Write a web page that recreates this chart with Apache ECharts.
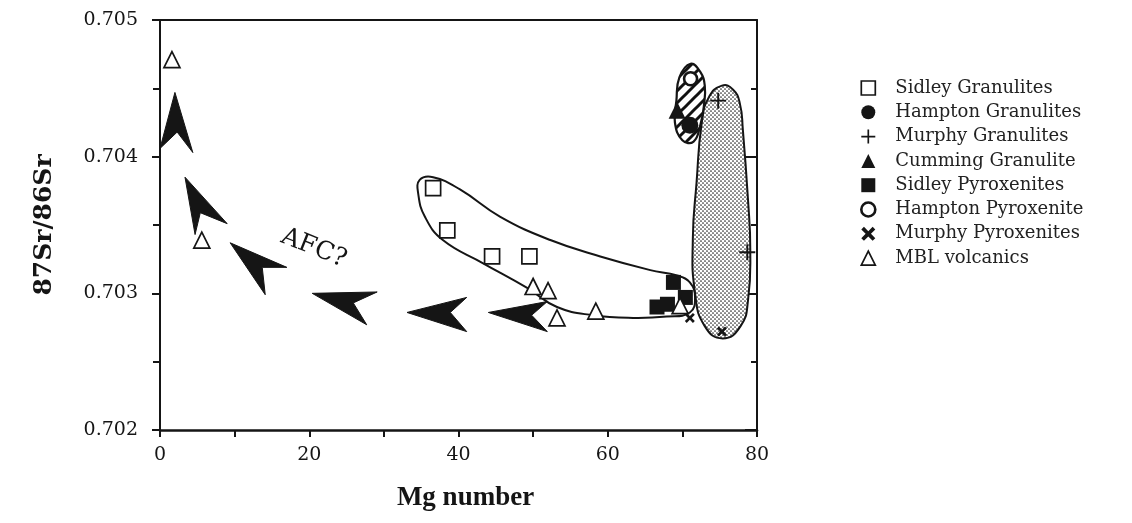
<!DOCTYPE html>
<html><head><meta charset="utf-8">
<style>html,body{margin:0;padding:0;background:#fff}#c{width:1132px;height:523px}</style>
<script src="https://cdn.jsdelivr.net/npm/echarts@6.0.0/dist/echarts.min.js"></script>
</head><body><div id="c"></div>
<script>
// ---- tick labels ----
const xTicks = [0, 20, 40, 60, 80];
const yTicks = [0.702, 0.703, 0.704, 0.705];

// ---- series values [Mg number, 87Sr/86Sr] ----
const sidleyGranulites = [[36.6,0.70377],[38.5,0.70346],[44.5,0.70327],[49.5,0.70327]];
const hamptonGranulites = [[71.0,0.70423]];
const murphyGranulites = [[74.8,0.70441],[78.7,0.70330]];
const cummingGranulite = [[69.3,0.70434]];
const sidleyPyroxenites = [[68.8,0.70308],[66.6,0.70290],[68.0,0.70292],[70.4,0.70297]];
const hamptonPyroxenite = [[71.1,0.70457]];
const murphyPyroxenites = [[75.3,0.70272],[71.0,0.70282]];
const mblVolcanics = [[1.6,0.70471],[5.6,0.70339],[50.0,0.70305],[52.0,0.70302],[53.2,0.70282],[58.4,0.70287],[69.7,0.70291]];

// ---- field outlines (data units) ----
const sidleyField = [[34.8,0.70383],[36.6,0.70385],[40.2,0.70376],[45.6,0.70356],[52.3,0.70339],[59.0,0.70327],[65.7,0.70317],[69.3,0.70313],[71.0,0.70308],[71.7,0.70297],[71.0,0.70286],[67.9,0.70283],[63.4,0.70282],[58.0,0.70284],[53.2,0.70290],[49.2,0.70304],[43.3,0.70322],[37.9,0.70339],[35.5,0.70356],[34.6,0.70373]];
const murphyField = [[75.3,0.70452],[76.8,0.70449],[77.7,0.70439],[78.1,0.70420],[78.8,0.70368],[79.1,0.70332],[78.8,0.70295],[77.8,0.70276],[75.4,0.70267],[73.0,0.70276],[71.7,0.70300],[71.4,0.70340],[71.9,0.70381],[72.6,0.70425],[73.5,0.70443]];
const hamptonField = [[71.1,0.70468],[72.4,0.70462],[73.0,0.70452],[72.9,0.70438],[72.4,0.70423],[71.5,0.70411],[70.0,0.70412],[69.0,0.70425],[69.2,0.70441],[69.6,0.70458]];

// ---- AFC trend arrowheads: tip, wing, notch, wing ----
const afcArrows = [
  [[2.0,0.70447],[4.4,0.70403],[2.3,0.70418],[0.0,0.70406]],
  [[3.35,0.70385],[9.0,0.70351],[5.4,0.70359],[4.7,0.70343]],
  [[9.4,0.70337],[17.0,0.70319],[13.7,0.70319],[14.1,0.70299]],
  [[20.4,0.70300],[29.1,0.70301],[25.9,0.70293],[27.7,0.70277]],
  [[33.1,0.70286],[41.1,0.70297],[38.9,0.70286],[41.1,0.70272]],
  [[44.0,0.70286],[51.9,0.70294],[49.8,0.70284],[51.9,0.70272]]
];
const afcLabel = {text: 'AFC?', at: [20.6, 0.70333]};

const INK = '#151515';
const SERIF = "'DejaVu Serif', 'Liberation Serif', serif";
const TITLE = "'Liberation Serif', 'DejaVu Serif', serif";

function stipplePattern() {
  const c = document.createElement('canvas'); c.width = 4; c.height = 4;
  const g = c.getContext('2d');
  g.fillStyle = '#fff'; g.fillRect(0,0,4,4);
  g.fillStyle = '#2a2a2a';
  g.beginPath(); g.arc(1,1,0.85,0,Math.PI*2); g.fill();
  g.beginPath(); g.arc(3,3,0.85,0,Math.PI*2); g.fill();
  return c;
}
function hatchPattern() {
  const c = document.createElement('canvas'); c.width = 12; c.height = 12;
  const g = c.getContext('2d');
  g.fillStyle = '#fff'; g.fillRect(0,0,12,12);
  g.strokeStyle = '#111'; g.lineWidth = 3;
  [[-6,6,6,-6],[0,12,12,0],[6,18,18,6]].forEach(function(l){
    g.beginPath(); g.moveTo(l[0],l[1]); g.lineTo(l[2],l[3]); g.stroke();
  });
  return c;
}

function fieldSeries(pts, style, z, smooth) {
  return {
    type: 'custom', z: z, silent: true, clip: false,
    data: [pts[0]],
    renderItem: function (params, api) {
      return {
        type: 'polygon',
        shape: { points: pts.map(function (p) { return api.coord(p); }), smooth: smooth },
        style: style
      };
    }
  };
}

const arrowSeries = {
  type: 'custom', z: 2, silent: true, clip: false,
  data: afcArrows.map(function (a) { return a[0]; }),
  renderItem: function (params, api) {
    const a = afcArrows[params.dataIndex];
    return { type: 'polygon', shape: { points: a.map(function (p) { return api.coord(p); }) },
             style: { fill: INK, stroke: INK, lineWidth: 1 } };
  }
};
const labelSeries = {
  type: 'custom', z: 2, silent: true, clip: false,
  data: [afcLabel.at],
  renderItem: function (params, api) {
    const p = api.coord(afcLabel.at);
    return { type: 'text', x: p[0], y: p[1], rotation: -0.38,
      style: { text: afcLabel.text, fill: INK, font: "25px " + SERIF, align: 'center', verticalAlign: 'middle' } };
  }
};

const PLUS = 'path://M4.4,0H5.6V4.4H10V5.6H5.6V10H4.4V5.6H0V4.4H4.4Z';
const CROSS = 'path://M0,1.9L1.9,0L5,3.1L8.1,0L10,1.9L6.9,5L10,8.1L8.1,10L5,6.9L1.9,10L0,8.1L3.1,5Z';

const scatterDefs = [
  { name: 'Sidley Granulites', data: sidleyGranulites, symbol: 'rect', size: 15, style: { color: '#fff', borderColor: INK, borderWidth: 1.7 } },
  { name: 'Hampton Granulites', data: hamptonGranulites, symbol: 'circle', size: 17, style: { color: INK } },
  { name: 'Murphy Granulites', data: murphyGranulites, symbol: PLUS, size: 16, style: { color: INK } },
  { name: 'Cumming Granulite', data: cummingGranulite, symbol: 'triangle', size: 17, style: { color: INK } },
  { name: 'Sidley Pyroxenites', data: sidleyPyroxenites, symbol: 'rect', size: 15, style: { color: INK } },
  { name: 'Hampton Pyroxenite', data: hamptonPyroxenite, symbol: 'circle', size: 13, style: { color: '#fff', borderColor: INK, borderWidth: 2.6 } },
  { name: 'Murphy Pyroxenites', data: murphyPyroxenites, symbol: CROSS, size: 10, style: { color: INK } },
  { name: 'MBL volcanics', data: mblVolcanics, symbol: 'triangle', size: 16, style: { color: '#fff', borderColor: INK, borderWidth: 1.7 } }
];

const series = [
  fieldSeries(sidleyField, { fill: 'none', stroke: INK, lineWidth: 2 }, 1, 0.45),
  arrowSeries,
  labelSeries,
  fieldSeries(murphyField, { fill: { image: stipplePattern(), repeat: 'repeat' }, stroke: INK, lineWidth: 2 }, 2, 0.5),
  fieldSeries(hamptonField, { fill: { image: hatchPattern(), repeat: 'repeat' }, stroke: INK, lineWidth: 2.2 }, 2, 0.45)
].concat(scatterDefs.map(function (d) {
  return { type: 'scatter', name: d.name, data: d.data, symbol: d.symbol, symbolSize: d.size,
           itemStyle: Object.assign({ opacity: 1 }, d.style), z: 5, silent: true };
}));

const axisLineStyle = { color: INK, width: 2 };
const chart = echarts.init(document.getElementById('c'), null, { renderer: 'canvas' });
chart.setOption({
  animation: false,
  backgroundColor: '#fff',
  grid: { left: 160, right: 375, top: 20, bottom: 93, containLabel: false },
  xAxis: [{
    type: 'value', min: xTicks[0], max: xTicks[xTicks.length - 1], interval: xTicks[1] - xTicks[0], position: 'bottom',
    axisLine: { show: true, onZero: false, lineStyle: { color: INK, width: 2.6 } },
    axisTick: { show: true, inside: false, length: 7, lineStyle: { color: INK, width: 2 } },
    minorTick: { show: true, splitNumber: 2, length: 7, lineStyle: { color: INK, width: 2 } },
    splitLine: { show: false }, minorSplitLine: { show: false },
    axisLabel: { color: INK, fontFamily: SERIF, fontSize: 19, margin: 16 },
    name: 'Mg number', nameLocation: 'middle', nameGap: 55,
    nameTextStyle: { color: INK, fontFamily: TITLE, fontSize: 27, fontWeight: 'bold', padding: [0, 0, 0, 14] }
  }, {
    type: 'value', min: xTicks[0], max: xTicks[xTicks.length - 1], position: 'top',
    axisLine: { show: true, onZero: false, lineStyle: axisLineStyle },
    axisTick: { show: false }, axisLabel: { show: false }, splitLine: { show: false }
  }],
  yAxis: [{
    type: 'value', min: yTicks[0], max: yTicks[yTicks.length - 1], interval: 0.001, position: 'left',
    axisLine: { show: true, onZero: false, lineStyle: axisLineStyle },
    axisTick: { show: true, inside: false, length: 8, lineStyle: { color: INK, width: 2 } },
    minorTick: { show: true, splitNumber: 2, length: 7, lineStyle: { color: INK, width: 2 } },
    splitLine: { show: false }, minorSplitLine: { show: false },
    axisLabel: { color: INK, fontFamily: SERIF, fontSize: 19, margin: 22, formatter: function (v) { return v.toFixed(3); } },
    name: '87Sr/86Sr', nameLocation: 'middle', nameGap: 103,
    nameTextStyle: { color: INK, fontFamily: SERIF, fontSize: 25, fontWeight: 'bold' }
  }, {
    type: 'value', min: yTicks[0], max: yTicks[yTicks.length - 1], interval: 0.001, position: 'right',
    axisLine: { show: true, onZero: false, lineStyle: axisLineStyle },
    axisTick: { show: true, inside: true, length: 12, lineStyle: { color: INK, width: 2 } },
    minorTick: { show: true, splitNumber: 2, length: 6, lineStyle: { color: INK, width: 2 } },
    axisLabel: { show: false }, splitLine: { show: false }
  }],
  legend: {
    orient: 'vertical', left: 855, top: 74, itemGap: 6.3, itemWidth: 14, itemHeight: 14,
    selectedMode: false, symbolKeepAspect: true,
    textStyle: { color: '#222', fontFamily: SERIF, fontSize: 18, lineHeight: 18, padding: [0, 0, 0, 15] },
    data: scatterDefs.map(function (d) {
      return { name: d.name, icon: d.symbol, itemStyle: Object.assign({}, d.style) };
    })
  },
  series: series
});
</script>
</body></html>
